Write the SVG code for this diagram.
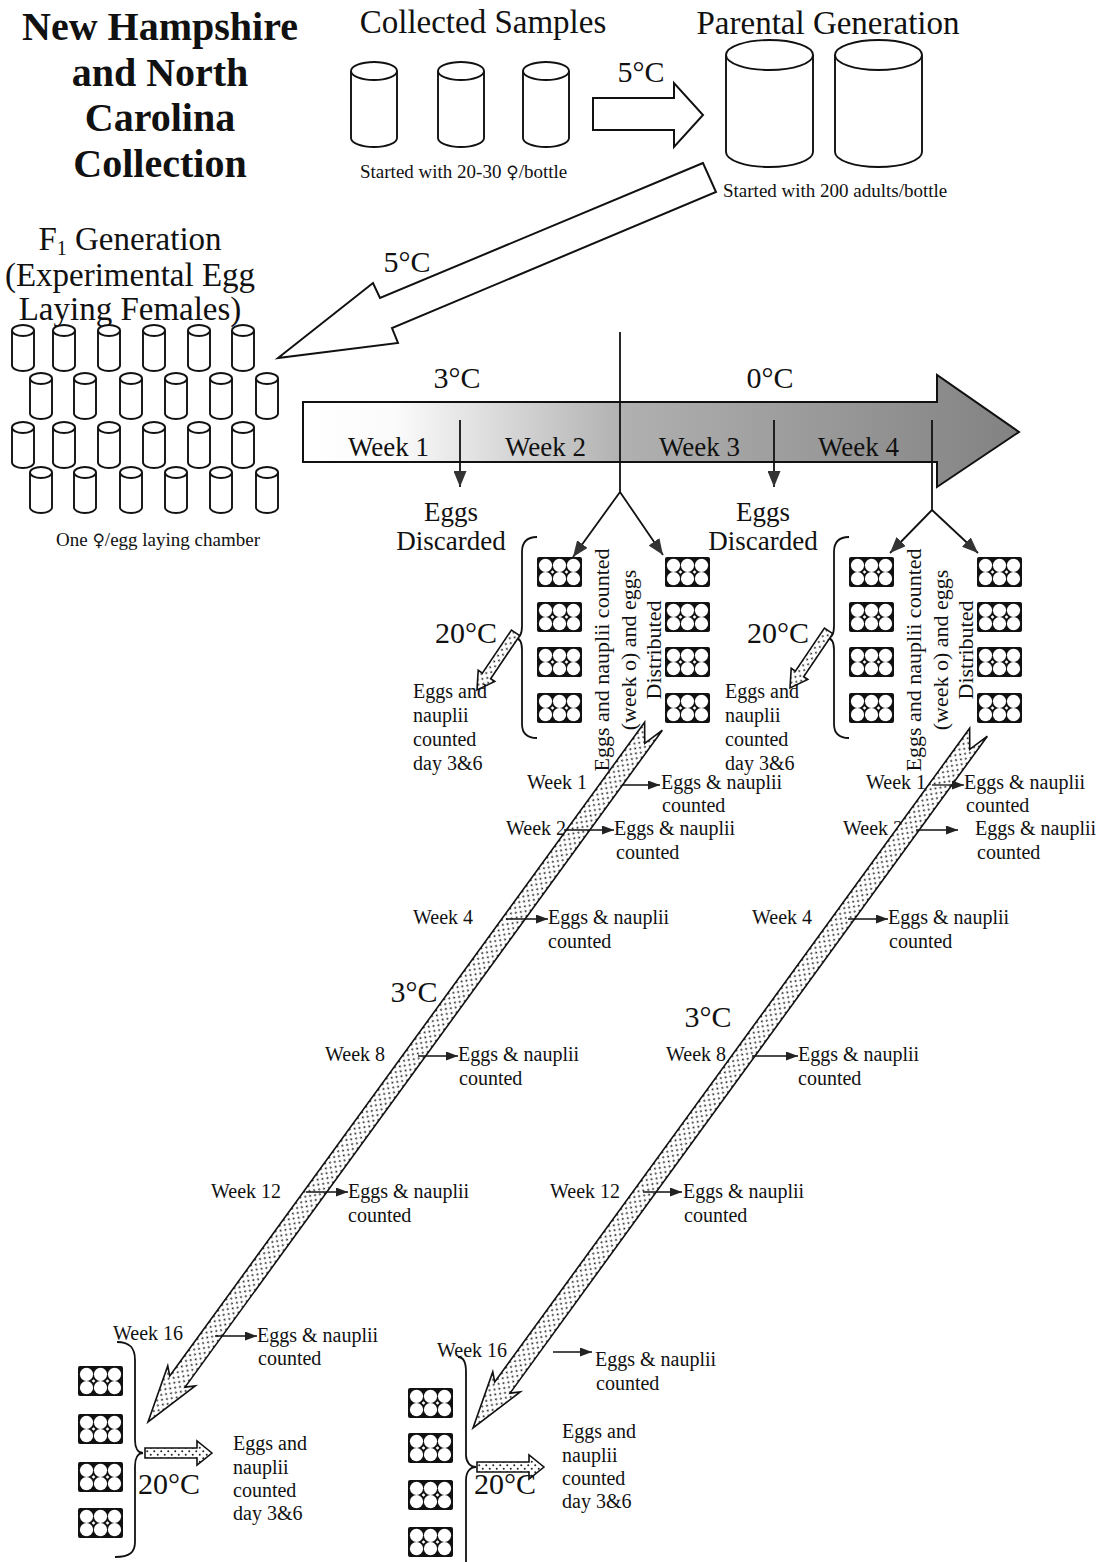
<svg xmlns="http://www.w3.org/2000/svg" width="1099" height="1562" viewBox="0 0 1099 1562">
<style>
text{font-family:"Liberation Serif","Times New Roman",serif;fill:#111}
.title{font-size:40px;font-weight:bold;text-anchor:middle}
.h{font-size:33px}
.cap{font-size:19px}
.sym{font-family:"DejaVu Serif","DejaVu Sans",serif;font-size:17px}
.temp{font-size:30px}
.wk{font-size:27px}
.lb{font-size:20px}
.rot{font-size:22px;text-anchor:middle}
.mid{text-anchor:middle}
.ol{fill:#fff;stroke:#111;stroke-width:2;stroke-linejoin:miter}
.dot{fill:url(#dots);stroke:#111;stroke-width:1.6}
.ln{fill:none;stroke:#111;stroke-width:1.8}
.tk{fill:none;stroke:#111;stroke-width:1.3}
.cyl path,.cyl ellipse{fill:#fff;stroke:#111;stroke-width:1.9}
</style>
<defs>
<pattern id="dots" width="7" height="7" patternUnits="userSpaceOnUse">
<rect width="7" height="7" fill="#fff"/>
<circle cx="1.75" cy="1.75" r="1" fill="#222"/>
<circle cx="5.25" cy="5.25" r="1" fill="#222"/>
</pattern>
<linearGradient id="grad" gradientUnits="userSpaceOnUse" x1="303" y1="0" x2="1020" y2="0">
<stop offset="0" stop-color="#ffffff"/>
<stop offset="0.13" stop-color="#fbfbfb"/>
<stop offset="0.45" stop-color="#b0b0b0"/>
<stop offset="1" stop-color="#828282"/>
</linearGradient>
<marker id="ah" viewBox="0 0 16 13" refX="16" refY="6.5" markerWidth="16" markerHeight="13" markerUnits="userSpaceOnUse" orient="auto">
<path d="M0,0 L16,6.5 L0,13 Z" fill="#333"/>
</marker>
<marker id="ahs" viewBox="0 0 12 9" refX="12" refY="4.5" markerWidth="12" markerHeight="9" markerUnits="userSpaceOnUse" orient="auto">
<path d="M0,0 L12,4.5 L0,9 Z" fill="#222"/>
</marker>
<g id="cylS" class="cyl"><path d="M0,5.5 V40.5 A11,5.5 0 0 0 22,40.5 V5.5"/><ellipse cx="11" cy="5.5" rx="11" ry="5.5"/></g>
<g id="cylM" class="cyl"><path d="M0,9 V76 A23,9 0 0 0 46,76 V9"/><ellipse cx="23" cy="9" rx="23" ry="9"/></g>
<g id="cylL" class="cyl"><path d="M0,15 V112 A43.5,15 0 0 0 87,112 V15"/><ellipse cx="43.5" cy="15" rx="43.5" ry="15"/></g>
<g id="plate">
<rect x="0" y="0" width="45" height="30" rx="2" fill="#111"/>
<g fill="#fff">
<circle cx="8.5" cy="8.3" r="6.6"/><circle cx="22.5" cy="8.3" r="6.6"/><circle cx="36.5" cy="8.3" r="6.6"/>
<circle cx="8.5" cy="21.7" r="6.6"/><circle cx="22.5" cy="21.7" r="6.6"/><circle cx="36.5" cy="21.7" r="6.6"/>
<rect x="14.2" y="13.7" width="2.6" height="2.6" transform="rotate(45 15.5 15)"/>
<rect x="28.2" y="13.7" width="2.6" height="2.6" transform="rotate(45 29.5 15)"/>
</g>
</g>
<path id="diag" d="M0,0 L-57,17 L-50,9.5 L-858,9.5 L-841,-3 L-862,-9.5 L-50,-9.5 L-57,-17 Z"/>
<path id="sarr" d="M0,0 L-17,10 L-17,5 L-69,5 L-69,-5 L-17,-5 L-17,-10 Z"/>
<path id="sarrh" d="M0,0 L-15,-12 L-15,-5 L-67,-5 L-67,5 L-15,5 L-15,12 Z"/>
</defs>

<rect width="1099" height="1562" fill="#fff"/>

<g id="title">
<text class="title" x="160" y="40">New Hampshire</text>
<text class="title" x="160" y="86">and North</text>
<text class="title" x="160" y="131">Carolina</text>
<text class="title" x="160" y="177">Collection</text>
</g>

<g id="collected-samples">
<text class="h mid" x="483" y="33">Collected Samples</text>
<use href="#cylM" x="351" y="62"/>
<use href="#cylM" x="438" y="62"/>
<use href="#cylM" x="523" y="62"/>
<text class="cap" x="360" y="178">Started with 20-30 <tspan class="sym">♀</tspan>/bottle</text>
</g>

<g id="parental-generation">
<text class="h mid" x="828" y="34">Parental Generation</text>
<use href="#cylL" x="726" y="40"/>
<use href="#cylL" x="835" y="40"/>
<text class="cap" x="723" y="197">Started with 200 adults/bottle</text>
</g>

<g id="f1-generation">
<text class="h mid" x="130" y="250">F<tspan font-size="20" dy="5">1</tspan><tspan dy="-5"> Generation</tspan></text>
<text class="h mid" x="130" y="286">(Experimental Egg</text>
<text class="h mid" x="130" y="320">Laying Females)</text>
<use href="#cylS" x="12" y="325"/><use href="#cylS" x="53" y="325"/><use href="#cylS" x="98" y="325"/><use href="#cylS" x="143" y="325"/><use href="#cylS" x="188" y="325"/><use href="#cylS" x="232" y="325"/>
<use href="#cylS" x="30" y="373"/><use href="#cylS" x="74" y="373"/><use href="#cylS" x="120" y="373"/><use href="#cylS" x="165" y="373"/><use href="#cylS" x="210" y="373"/><use href="#cylS" x="256" y="373"/>
<use href="#cylS" x="12" y="422"/><use href="#cylS" x="53" y="422"/><use href="#cylS" x="98" y="422"/><use href="#cylS" x="143" y="422"/><use href="#cylS" x="188" y="422"/><use href="#cylS" x="232" y="422"/>
<use href="#cylS" x="30" y="467"/><use href="#cylS" x="74" y="467"/><use href="#cylS" x="120" y="467"/><use href="#cylS" x="165" y="467"/><use href="#cylS" x="210" y="467"/><use href="#cylS" x="256" y="467"/>
<text class="cap mid" x="158" y="546">One <tspan class="sym">♀</tspan>/egg laying chamber</text>
</g>

<g id="timeline">
<polygon points="303,402 937,402 937,375 1019,432 937,487 937,462 303,462" fill="url(#grad)" stroke="#111" stroke-width="2"/>
<text class="temp mid" x="457" y="388">3°C</text>
<text class="temp mid" x="770" y="388">0°C</text>
<text class="wk" x="348" y="456">Week 1</text>
<text class="wk" x="505" y="456">Week 2</text>
<text class="wk" x="659" y="456">Week 3</text>
<text class="wk" x="818" y="456">Week 4</text>
</g>

<g id="discard-1">
<text class="wk mid" x="451" y="521" font-size="26">Eggs</text>
<text class="wk mid" x="451" y="550" font-size="26">Discarded</text>
</g>
<g id="discard-2">
<text class="wk mid" x="763" y="521" font-size="26">Eggs</text>
<text class="wk mid" x="763" y="550" font-size="26">Discarded</text>
</g>

<g id="batch-1">
<use href="#plate" x="537" y="557"/><use href="#plate" x="537" y="602"/><use href="#plate" x="537" y="647"/><use href="#plate" x="537" y="693"/>
<use href="#plate" x="665" y="557"/><use href="#plate" x="665" y="602"/><use href="#plate" x="665" y="647"/><use href="#plate" x="665" y="693"/>
<path class="ln" d="M537,537 C527,537 522,542 522,552 L522,626 C522,634 520,638 515,638 C520,638 522,642 522,650 L522,724 C522,734 527,738 537,738"/>
<text class="rot" transform="translate(609,660) rotate(-90)">Eggs and nauplii counted</text>
<text class="rot" transform="translate(636,650) rotate(-90)">(week o) and eggs</text>
<text class="rot" transform="translate(661,650) rotate(-90)">Distributed</text>
<use href="#sarr" class="dot" transform="translate(477,690) rotate(124)"/>
<text class="temp" x="435" y="643" font-size="29">20°C</text>
<text class="lb" x="413" y="698">Eggs and</text>
<text class="lb" x="413" y="722">nauplii</text>
<text class="lb" x="413" y="746">counted</text>
<text class="lb" x="413" y="770">day 3&amp;6</text>
</g>

<g id="batch-2" transform="translate(312,0)">
<use href="#plate" x="537" y="557"/><use href="#plate" x="537" y="602"/><use href="#plate" x="537" y="647"/><use href="#plate" x="537" y="693"/>
<use href="#plate" x="665" y="557"/><use href="#plate" x="665" y="602"/><use href="#plate" x="665" y="647"/><use href="#plate" x="665" y="693"/>
<path class="ln" d="M537,537 C527,537 522,542 522,552 L522,626 C522,634 520,638 515,638 C520,638 522,642 522,650 L522,724 C522,734 527,738 537,738"/>
<text class="rot" transform="translate(609,660) rotate(-90)">Eggs and nauplii counted</text>
<text class="rot" transform="translate(636,650) rotate(-90)">(week o) and eggs</text>
<text class="rot" transform="translate(661,650) rotate(-90)">Distributed</text>
<use href="#sarr" class="dot" transform="translate(478,688) rotate(124)"/>
<text class="temp" x="435" y="643" font-size="29">20°C</text>
<text class="lb" x="413" y="698">Eggs and</text>
<text class="lb" x="413" y="722">nauplii</text>
<text class="lb" x="413" y="746">counted</text>
<text class="lb" x="413" y="770">day 3&amp;6</text>
</g>

<g id="counts-1">
<text class="lb" x="527" y="789">Week 1</text>
<text class="lb" x="661" y="789">Eggs &amp; nauplii</text>
<text class="lb" x="662" y="812">counted</text>
<text class="lb" x="506" y="835">Week 2</text>
<text class="lb" x="614" y="835">Eggs &amp; nauplii</text>
<text class="lb" x="616" y="859">counted</text>
<text class="lb" x="413" y="924">Week 4</text>
<text class="lb" x="548" y="924">Eggs &amp; nauplii</text>
<text class="lb" x="548" y="948">counted</text>
<text class="temp mid" x="414" y="1002" font-size="29">3°C</text>
<text class="lb" x="325" y="1061">Week 8</text>
<text class="lb" x="458" y="1061">Eggs &amp; nauplii</text>
<text class="lb" x="459" y="1085">counted</text>
<text class="lb" x="211" y="1198">Week 12</text>
<text class="lb" x="348" y="1198">Eggs &amp; nauplii</text>
<text class="lb" x="348" y="1222">counted</text>
<text class="lb" x="113" y="1340">Week 16</text>
<text class="lb" x="257" y="1342">Eggs &amp; nauplii</text>
<text class="lb" x="258" y="1365">counted</text>
</g>

<g id="counts-2">
<text class="lb" x="866" y="789">Week 1</text>
<text class="lb" x="964" y="789">Eggs &amp; nauplii</text>
<text class="lb" x="966" y="812">counted</text>
<text class="lb" x="843" y="835">Week 2</text>
<text class="lb" x="975" y="835">Eggs &amp; nauplii</text>
<text class="lb" x="977" y="859">counted</text>
<text class="lb" x="752" y="924">Week 4</text>
<text class="lb" x="888" y="924">Eggs &amp; nauplii</text>
<text class="lb" x="889" y="948">counted</text>
<text class="temp mid" x="708" y="1027" font-size="29">3°C</text>
<text class="lb" x="666" y="1061">Week 8</text>
<text class="lb" x="798" y="1061">Eggs &amp; nauplii</text>
<text class="lb" x="798" y="1085">counted</text>
<text class="lb" x="550" y="1198">Week 12</text>
<text class="lb" x="683" y="1198">Eggs &amp; nauplii</text>
<text class="lb" x="684" y="1222">counted</text>
<text class="lb" x="437" y="1357">Week 16</text>
<text class="lb" x="595" y="1366">Eggs &amp; nauplii</text>
<text class="lb" x="596" y="1390">counted</text>
</g>

<g id="final-1">
<use href="#plate" x="78" y="1366"/><use href="#plate" x="78" y="1414"/><use href="#plate" x="78" y="1462"/><use href="#plate" x="78" y="1508"/>
<path class="ln" d="M117,1342 C130,1342 135,1348 135,1360 L135,1440 C135,1448 138,1453 143,1453 C138,1453 135,1458 135,1466 L135,1542 C135,1552 130,1557 115,1557"/>
<use href="#sarrh" class="dot" transform="translate(212,1453)"/>
<text class="temp" x="138" y="1494" font-size="29">20°C</text>
<text class="lb" x="233" y="1450">Eggs and</text>
<text class="lb" x="233" y="1474">nauplii</text>
<text class="lb" x="233" y="1497">counted</text>
<text class="lb" x="233" y="1520">day 3&amp;6</text>
</g>

<g id="final-2">
<use href="#plate" x="408" y="1388"/><use href="#plate" x="408" y="1433"/><use href="#plate" x="408" y="1480"/><use href="#plate" x="408" y="1527"/>
<path class="ln" d="M458,1357 C463,1357 466,1362 466,1372 L466,1455 C466,1462 470,1467 476,1467 C470,1467 466,1472 466,1480 L466,1562"/>
<use href="#sarrh" class="dot" transform="translate(544,1467)"/>
<text class="temp" x="474" y="1494" font-size="29">20°C</text>
<text class="lb" x="562" y="1438">Eggs and</text>
<text class="lb" x="562" y="1462">nauplii</text>
<text class="lb" x="562" y="1485">counted</text>
<text class="lb" x="562" y="1508">day 3&amp;6</text>
</g>

<g id="connectors">
<polygon class="ol" points="593,98 674,98 674,83 703,115 674,147 674,130 593,130"/>
<text class="temp mid" x="641" y="82" font-size="31">5°C</text>
<polygon class="ol" points="703,163 380,298 373,283 278,358 398,343 392,328 716,192"/>
<text class="temp mid" x="407" y="272" font-size="31">5°C</text>
<line class="ln" x1="620" y1="332" x2="620" y2="492"/>
<line class="ln" x1="932" y1="420" x2="932" y2="510"/>
<line class="ln" x1="460" y1="420" x2="460" y2="487" marker-end="url(#ah)"/>
<line class="ln" x1="774" y1="420" x2="774" y2="487" marker-end="url(#ah)"/>
<line class="ln" x1="620" y1="492" x2="573" y2="557" marker-end="url(#ah)"/>
<line class="ln" x1="620" y1="492" x2="663" y2="555" marker-end="url(#ah)"/>
<line class="ln" x1="932" y1="510" x2="890" y2="553" marker-end="url(#ah)"/>
<line class="ln" x1="932" y1="510" x2="978" y2="553" marker-end="url(#ah)"/>
<use href="#diag" class="dot" transform="translate(148,1422) rotate(126)"/>
<use href="#diag" class="dot" transform="translate(473,1428) rotate(126)"/>
<line class="tk" x1="622" y1="785" x2="660" y2="785" marker-end="url(#ahs)"/>
<line class="tk" x1="564" y1="830" x2="614" y2="830" marker-end="url(#ahs)"/>
<line class="tk" x1="506" y1="919" x2="548" y2="919" marker-end="url(#ahs)"/>
<line class="tk" x1="418" y1="1056" x2="458" y2="1056" marker-end="url(#ahs)"/>
<line class="tk" x1="306" y1="1192" x2="348" y2="1192" marker-end="url(#ahs)"/>
<line class="tk" x1="215" y1="1336" x2="257" y2="1336" marker-end="url(#ahs)"/>
<line class="tk" x1="932" y1="785" x2="964" y2="785" marker-end="url(#ahs)"/>
<line class="tk" x1="916" y1="830" x2="958" y2="830" marker-end="url(#ahs)"/>
<line class="tk" x1="848" y1="919" x2="888" y2="919" marker-end="url(#ahs)"/>
<line class="tk" x1="752" y1="1056" x2="798" y2="1056" marker-end="url(#ahs)"/>
<line class="tk" x1="643" y1="1192" x2="682" y2="1192" marker-end="url(#ahs)"/>
<line class="tk" x1="553" y1="1352" x2="592" y2="1352" marker-end="url(#ahs)"/>
</g>
</svg>
